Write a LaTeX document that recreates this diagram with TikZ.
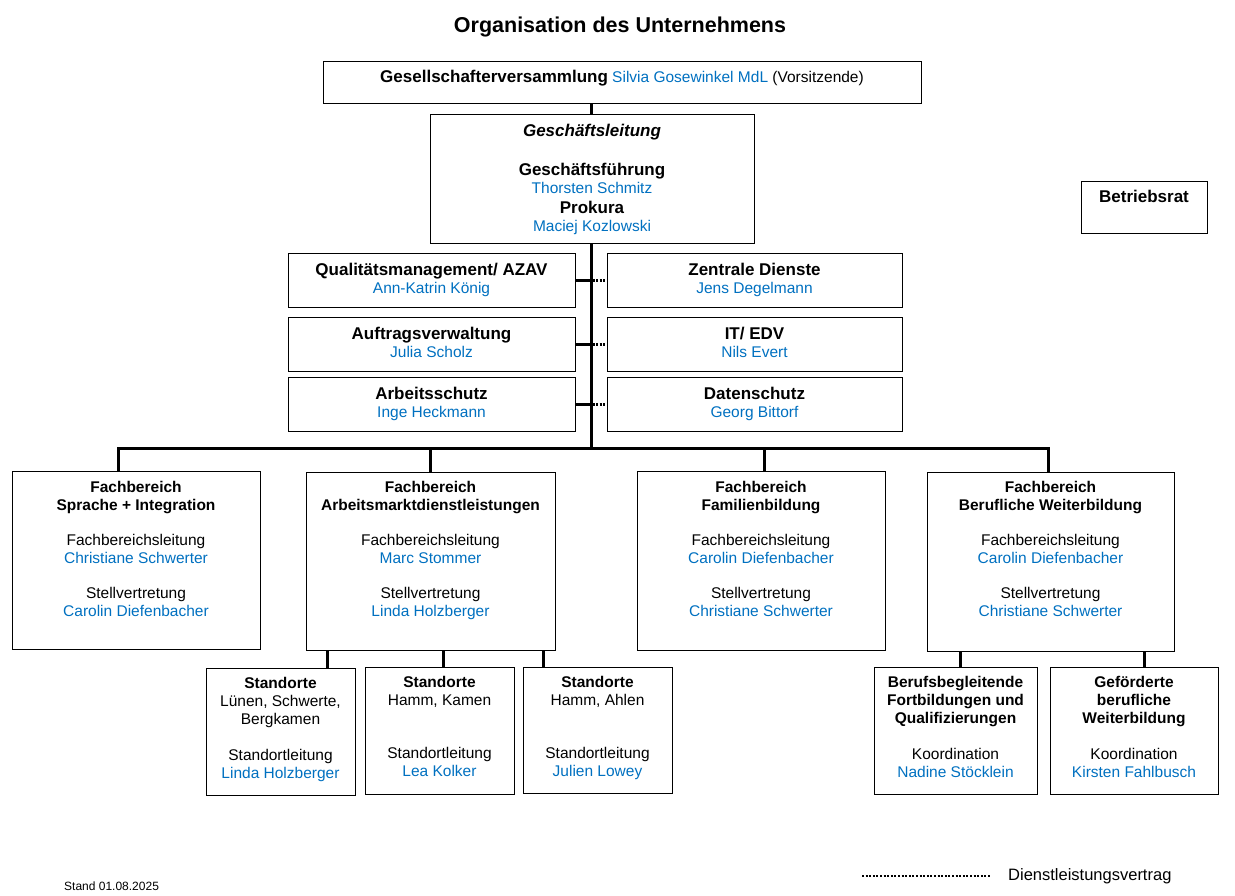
\documentclass[tikz,border=0pt]{standalone}
\usepackage{fontspec}
\setmainfont{Liberation Sans}
\definecolor{nameblue}{RGB}{0,112,192}
\newcommand\fl{\rule{0pt}{13pt}}
\newcommand\nm[1]{\textcolor{nameblue}{#1}}
\newcommand\hb[1]{{\fontsize{17}{18}\selectfont\bfseries #1}}
\begin{document}
\begin{tikzpicture}[x=1pt,y=-1pt,
  box/.style={draw, line width=1.2pt, rectangle, inner sep=0pt, anchor=north west},
  txt/.style={align=center, inner sep=0pt, anchor=north, font=\fontsize{15.5}{18}\selectfont},
  fbtxt/.style={txt, font=\fontsize{15.5}{17.5}\selectfont},
  conn/.style={line width=3pt},
  dots/.style={line width=2.5pt, dash pattern=on 2pt off 1.6pt}]
\useasboundingbox (0,0) rectangle (1235,896);

% title
\node[inner sep=0pt, font=\fontsize{21.5}{24}\selectfont\bfseries] (title) at (620,27) {Organisation des Unternehmens};

% top boxes
\node[box, minimum width=598pt, minimum height=42pt] (gv) at (323,61) {};
\node[txt] (gvt) at (622,69.5) {\fl\hb{Gesellschafterversammlung} \nm{Silvia Gosewinkel MdL} (Vorsitzende)};

\node[box, minimum width=324pt, minimum height=129pt] (gl) at (430,114) {};
\node[txt] (glt) at (592,123.5) {\fl\hb{\itshape Geschäftsleitung}\\[21pt]
  \hb{Geschäftsführung}\\ \nm{Thorsten Schmitz}\\[2pt]
  \hb{Prokura}\\ \nm{Maciej Kozlowski}};

\node[box, minimum width=126pt, minimum height=52pt] (br) at (1081,181) {};
\node[txt] (brt) at (1144,189.5) {\fl\hb{Betriebsrat}};

% staff boxes left
\node[box, minimum width=287pt, minimum height=54pt] (qm) at (288,253) {};
\node[txt] (qmt) at (431.5,262.5) {\fl\hb{Qualitätsmanagement/ AZAV}\\ \nm{Ann-Katrin König}};
\node[box, minimum width=287pt, minimum height=54pt] (av) at (288,317) {};
\node[txt] (avt) at (431.5,326.5) {\fl\hb{Auftragsverwaltung}\\ \nm{Julia Scholz}};
\node[box, minimum width=287pt, minimum height=54pt] (as) at (288,377) {};
\node[txt] (ast) at (431.5,386.5) {\fl\hb{Arbeitsschutz}\\ \nm{Inge Heckmann}};

% staff boxes right
\node[box, minimum width=295pt, minimum height=54pt] (zd) at (607,253) {};
\node[txt] (zdt) at (754.5,262.5) {\fl\hb{Zentrale Dienste}\\ \nm{Jens Degelmann}};
\node[box, minimum width=295pt, minimum height=54pt] (it) at (607,317) {};
\node[txt] (itt) at (754.5,326.5) {\fl\hb{IT/ EDV}\\ \nm{Nils Evert}};
\node[box, minimum width=295pt, minimum height=54pt] (ds) at (607,377) {};
\node[txt] (dst) at (754.5,386.5) {\fl\hb{Datenschutz}\\ \nm{Georg Bittorf}};

% Fachbereiche
\node[box, minimum width=248pt, minimum height=178pt] (fb1) at (12,471) {};
\node[fbtxt] (fb1t) at (136,479.5) {\fl\textbf{Fachbereich}\\ \textbf{Sprache + Integration}\\[18pt]
  Fachbereichsleitung\\ \nm{Christiane Schwerter}\\[18pt]
  Stellvertretung\\ \nm{Carolin Diefenbacher}};
\node[box, minimum width=249pt, minimum height=178pt] (fb2) at (306,472) {};
\node[fbtxt] (fb2t) at (430.5,479.5) {\fl\textbf{Fachbereich}\\ \textbf{Arbeitsmarktdienstleistungen}\\[18pt]
  Fachbereichsleitung\\ \nm{Marc Stommer}\\[18pt]
  Stellvertretung\\ \nm{Linda Holzberger}};
\node[box, minimum width=248pt, minimum height=179pt] (fb3) at (637,471) {};
\node[fbtxt] (fb3t) at (761,479.5) {\fl\textbf{Fachbereich}\\ \textbf{Familienbildung}\\[18pt]
  Fachbereichsleitung\\ \nm{Carolin Diefenbacher}\\[18pt]
  Stellvertretung\\ \nm{Christiane Schwerter}};
\node[box, minimum width=247pt, minimum height=179pt] (fb4) at (927,472) {};
\node[fbtxt] (fb4t) at (1050.5,479.5) {\fl\textbf{Fachbereich}\\ \textbf{Berufliche Weiterbildung}\\[18pt]
  Fachbereichsleitung\\ \nm{Carolin Diefenbacher}\\[18pt]
  Stellvertretung\\ \nm{Christiane Schwerter}};

% Standorte
\node[box, minimum width=149pt, minimum height=127pt] (s1) at (206,668) {};
\node[txt] (s1t) at (280.5,675.5) {\fl\textbf{Standorte}\\ Lünen, Schwerte,\\ Bergkamen\\[18pt]
  Standortleitung\\ \nm{Linda Holzberger}};
\node[box, minimum width=149pt, minimum height=127pt] (s2) at (365,667) {};
\node[txt] (s2t) at (439.5,674.5) {\fl\textbf{Standorte}\\ Hamm, Kamen\\[35pt]
  Standortleitung\\ \nm{Lea Kolker}};
\node[box, minimum width=149pt, minimum height=126pt] (s3) at (523,667) {};
\node[txt] (s3t) at (597.5,674.5) {\fl\textbf{Standorte}\\ Hamm, Ahlen\\[35pt]
  Standortleitung\\ \nm{Julien Lowey}};

% BW sub boxes
\node[box, minimum width=163pt, minimum height=127pt] (b1) at (874,667) {};
\node[txt] (b1t) at (955.5,674.5) {\fl\textbf{Berufsbegleitende}\\ \textbf{Fortbildungen und}\\ \textbf{Qualifizierungen}\\[18pt]
  Koordination\\ \nm{Nadine Stöcklein}};
\node[box, minimum width=168pt, minimum height=127pt] (b2) at (1050,667) {};
\node[txt] (b2t) at (1134,674.5) {\fl\textbf{Geförderte}\\ \textbf{berufliche}\\ \textbf{Weiterbildung}\\[18pt]
  Koordination\\ \nm{Kirsten Fahlbusch}};

% connector coordinates
\coordinate (sp) at (591,0);
\coordinate (d1) at (118,448);
\coordinate (d2) at (430,448);
\coordinate (d3) at (764,448);
\coordinate (d4) at (1048,448);
\coordinate (e1) at (327,0);
\coordinate (e2) at (443,0);
\coordinate (e3) at (543,0);
\coordinate (f1) at (960,0);
\coordinate (f2) at (1144,0);

% main spine
\draw[conn] (sp |- gv.south) -- (sp |- gl.north);
\draw[conn] (sp |- gl.south) -- (sp |- d1);

% staff stubs and service contracts
\draw[conn] (qm.east) -- (qm.east -| sp);
\draw[conn] (av.east) -- (av.east -| sp);
\draw[conn] (as.east) -- (as.east -| sp);
\draw[dots] ([xshift=1.5pt]qm.east -| sp) -- (zd.west);
\draw[dots] ([xshift=1.5pt]av.east -| sp) -- (it.west);
\draw[dots] ([xshift=1.5pt]as.east -| sp) -- (ds.west);

% bus to Fachbereiche
\draw[conn] (d1 |- fb1.north) -- (d1) -- (d4) -- (d4 |- fb4.north);
\draw[conn] (d2) -- (d2 |- fb2.north);
\draw[conn] (d3) -- (d3 |- fb3.north);

% sub drops
\draw[conn] (e1 |- fb2.south) -- (e1 |- s1.north);
\draw[conn] (e2 |- fb2.south) -- (e2 |- s2.north);
\draw[conn] (e3 |- fb2.south) -- (e3 |- s3.north);
\draw[conn] (f1 |- fb4.south) -- (f1 |- b1.north);
\draw[conn] (f2 |- fb4.south) -- (f2 |- b2.north);

% legend and footer
\coordinate (l1) at (862,876);
\coordinate (l2) at (990,876);
\draw[dots] (l1) -- (l2);
\node[anchor=west, inner sep=0pt, font=\fontsize{16.5}{18}\selectfont] (leg) at (1008,876) {Dienstleistungsvertrag};
\node[anchor=west, inner sep=0pt, font=\fontsize{12}{14}\selectfont] (stand) at (64,886) {Stand 01.08.2025};
\end{tikzpicture}
\end{document}
